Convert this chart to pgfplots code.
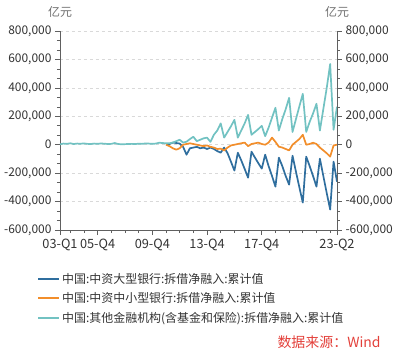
\documentclass[border=0pt]{standalone}
\usepackage{pgfplots}
\pgfplotsset{compat=1.18}
\usepackage{fontspec}
\setmainfont{Noto Sans CJK SC}
\definecolor{cBlue}{HTML}{2F6E9E}
\definecolor{cOrange}{HTML}{F28E2B}
\definecolor{cCyan}{HTML}{72C2C2}
\definecolor{axisgray}{HTML}{606060}
\definecolor{gridgray}{HTML}{D9D9D9}
\definecolor{txt}{HTML}{333333}
\definecolor{unitgray}{HTML}{707070}
\definecolor{srcred}{HTML}{E3403A}
\pgfplotsset{
  base/.style={
    scale only axis, width=277bp, height=199bp,
    xmin=0, xmax=81, ymin=-600000, ymax=800000,
    ytick={-600000,-400000,-200000,0,200000,400000,600000,800000},
    minor y tick num=2,
    scaled y ticks=false,
    /pgf/number format/assume math mode=true,
    /pgf/number format/1000 sep={,},
    /pgf/number format/fixed,
    tick align=outside,
    major tick length=5bp, minor tick length=3bp,
    every tick/.style={draw=axisgray, line width=0.6bp},
    axis line style={-, draw=axisgray, line width=0.8bp},
    tick label style={font=\fontsize{12}{14}\selectfont, text=txt},
  }
}
\begin{document}
\begin{tikzpicture}
\useasboundingbox (-60bp,-124bp) rectangle (340bp,230bp);
\begin{axis}[base,
  axis x line*=bottom, axis y line*=left,
  xtick={0,11,27,43,59,81},
  xticklabels={03-Q1,05-Q4,09-Q4,13-Q4,17-Q4,23-Q2},
  x tick label style={font=\fontsize{12.8}{14}\selectfont},
  minor xtick={3,7,15,19,23,31,35,39,47,51,55,63,67,71,75,79},
  ymajorgrids, major grid style={dashed, draw=gridgray, line width=0.6bp},
  legend cell align=left,
  legend style={at={(-0.083,-0.205)}, anchor=north west, draw=none, fill=none,
    font=\fontsize{12}{14}\selectfont, text=txt, row sep=4bp, inner sep=0pt},
  legend image code/.code={\draw[#1, line width=2bp] (0bp,0bp) -- (21bp,0bp);},
]
\addplot[cBlue, line width=1.7bp, line join=round] coordinates {
(31,0)(32,5000)(33,15000)(34,12000)(35,8000)(36,-15000)(37,-70000)(38,-25000)(39,-20000)
(40,-15000)(41,-25000)(42,-20000)(43,-30000)(44,-20000)(45,-30000)(46,-45000)(47,-56000)
(48,-20000)(49,-60000)(50,-120000)(51,-182000)(52,-56000)(53,-110000)(54,-170000)(55,-232000)
(56,-49000)(57,-90000)(58,-130000)(59,-168000)(60,-70000)(61,-150000)(62,-220000)(63,-295000)
(64,-91000)(65,-150000)(66,-220000)(67,-281000)(68,-77000)(69,-190000)(70,-300000)(71,-407000)
(72,-84000)(73,-150000)(74,-220000)(75,-295000)(76,-98000)(77,-220000)(78,-340000)(79,-456000)
(80,-119000)(81,-260000)};
\addlegendentry{中国:中资大型银行:拆借净融入:累计值}
\addplot[cOrange, line width=1.7bp, line join=round] coordinates {
(31,0)(32,-10000)(33,-25000)(34,-35000)(35,-25000)(36,0)(37,5000)(38,10000)(39,5000)
(40,0)(41,-5000)(42,-10000)(43,-5000)(44,-15000)(45,-20000)(46,-30000)(47,-28000)
(48,-40000)(49,-20000)(50,-5000)(51,0)(52,5000)(53,10000)(54,15000)(55,-10000)
(56,5000)(57,10000)(58,15000)(59,5000)(60,0)(61,15000)(62,50000)(63,20000)
(64,-14000)(65,-20000)(66,-30000)(67,-40000)(68,0)(69,20000)(70,40000)(71,70000)
(72,0)(73,5000)(74,14000)(75,5000)(76,-20000)(77,-40000)(78,-60000)(79,-84000)
(80,-5000)(81,0)};
\addlegendentry{中国:中资中小型银行:拆借净融入:累计值}
\addplot[cCyan, line width=1.7bp, line join=round] coordinates {
(0,3000)(1,8000)(2,6000)(3,10000)(4,5000)(5,8000)(6,7000)(7,9000)(8,6000)(9,5000)
(10,8000)(11,6000)(12,9000)(13,7000)(14,5000)(15,6000)(16,12000)(17,5000)(18,3000)(19,4000)
(20,5000)(21,6000)(22,5000)(23,7000)(24,6000)(25,9000)(26,8000)(27,6000)(28,8000)(29,14000)
(30,12000)(31,10000)(32,10000)(33,15000)(34,25000)(35,35000)(36,15000)(37,21000)(38,40000)(39,56000)
(40,25000)(41,35000)(42,45000)(43,50000)(44,20000)(45,70000)(46,100000)(47,150000)
(48,50000)(49,90000)(50,130000)(51,175000)(52,50000)(53,100000)(54,150000)(55,210000)
(56,70000)(57,90000)(58,110000)(59,133000)(60,60000)(61,120000)(62,190000)(63,260000)
(64,100000)(65,180000)(66,250000)(67,330000)(68,90000)(69,180000)(70,270000)(71,358000)
(72,90000)(73,160000)(74,220000)(75,288000)(76,100000)(77,250000)(78,400000)(79,568000)
(80,105000)(81,267000)};
\addlegendentry{中国:其他金融机构(含基金和保险):拆借净融入:累计值}
\end{axis}
\begin{axis}[base,
  axis y line*=right, axis x line=none,
]
\end{axis}
\node[text=unitgray, font=\fontsize{12}{14}\selectfont] at (0bp,218bp) {亿元};
\node[text=unitgray, font=\fontsize{12}{14}\selectfont] at (277bp,218bp) {亿元};
\node[anchor=west, text=srcred, font=\fontsize{14}{16}\selectfont] at (214bp,-112bp) {数据来源：Wind};
\end{tikzpicture}
\end{document}
